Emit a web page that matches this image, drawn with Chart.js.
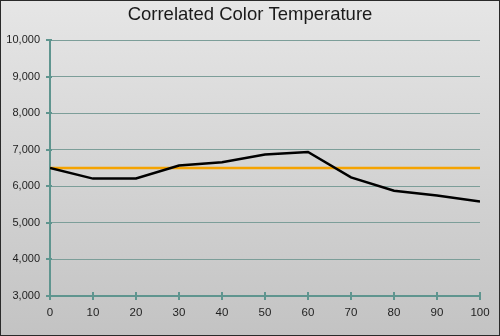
<!DOCTYPE html>
<html>
<head>
<meta charset="utf-8">
<script src="https://cdn.jsdelivr.net/npm/chart.js@4/dist/chart.umd.min.js"></script>
<style>
  html, body { margin: 0; padding: 0; background: #d6d6d6; }
  #wrap { width: 500px; height: 336px; position: relative; }
</style>
</head>
<body>
<div id="wrap"><canvas id="cct" width="500" height="336"></canvas></div>
<script>
// Stimulus level (% grey) and measured correlated colour temperature (K)
const levels = [0, 10, 20, 30, 40, 50, 60, 70, 80, 90, 100];
const measuredCCT = [6500, 6210, 6215, 6570, 6660, 6870, 6940, 6245, 5880, 5745, 5585];
// D65 reference target
const targetCCT = [6500, 6500, 6500, 6500, 6500, 6500, 6500, 6500, 6500, 6500, 6500];
// Axis ranges
const yTicks = [3000, 4000, 5000, 6000, 7000, 8000, 9000, 10000];
const xTicks = [0, 10, 20, 30, 40, 50, 60, 70, 80, 90, 100];

const axisColor = '#5f958f';
const gridColor = '#7c9e99';

const toPoints = (xs, ys) => xs.map((x, i) => ({ x: x, y: ys[i] }));

// Gradient panel with a dark frame behind the chart
const panelBackground = {
  id: 'panelBackground',
  beforeDraw(chart) {
    const { ctx, width, height } = chart;
    ctx.save();
    const g = ctx.createLinearGradient(0, 0, 0, height);
    g.addColorStop(0, '#e6e6e6');
    g.addColorStop(1, '#c3c3c3');
    ctx.fillStyle = g;
    ctx.fillRect(0, 0, width, height);
    ctx.strokeStyle = '#2a2a2a';
    ctx.lineWidth = 1;
    ctx.strokeRect(0.5, 0.5, width - 1, height - 1);
    ctx.restore();
  }
};

// Short tick marks crossing each axis line
const crossTicks = {
  id: 'crossTicks',
  afterDatasetsDraw(chart) {
    const { ctx, scales } = chart;
    const xs = scales.x, ys = scales.y;
    ctx.save();
    ctx.strokeStyle = axisColor;
    ctx.lineWidth = 2;
    ctx.beginPath();
    xs.ticks.forEach((t, i) => {
      const px = Math.round(xs.getPixelForTick(i));
      ctx.moveTo(px, ys.bottom - 4);
      ctx.lineTo(px, ys.bottom + 4);
    });
    ys.ticks.forEach((t, i) => {
      const py = Math.round(ys.getPixelForTick(i));
      ctx.moveTo(xs.left - 4, py);
      ctx.lineTo(xs.left + 2, py);
    });
    ctx.stroke();
    ctx.restore();
  }
};

new Chart(document.getElementById('cct'), {
  type: 'line',
  data: {
    datasets: [
      {
        label: 'Measured',
        data: toPoints(levels, measuredCCT),
        borderColor: '#000000',
        borderWidth: 2.5,
        pointRadius: 0,
        tension: 0,
        order: 1
      },
      {
        label: 'Target',
        data: toPoints(levels, targetCCT),
        borderColor: '#f5a300',
        borderWidth: 2.5,
        pointRadius: 0,
        tension: 0,
        order: 2
      }
    ]
  },
  options: {
    responsive: false,
    animation: false,
    devicePixelRatio: 1,
    layout: { padding: { left: 0, right: 0, top: 0, bottom: 0 } },
    plugins: {
      legend: { display: false },
      tooltip: { enabled: false },
      title: {
        display: true,
        text: 'Correlated Color Temperature',
        color: '#1a1a1a',
        font: { family: '"Liberation Sans", Arial, sans-serif', size: 18.5, weight: 'normal' },
        padding: { top: 4, bottom: 13.8 }
      }
    },
    scales: {
      x: {
        type: 'linear',
        min: 0,
        max: 100,
        afterBuildTicks(scale) { scale.ticks = xTicks.map(v => ({ value: v })); },
        afterFit(scale) { scale.height = 40; },
        ticks: {
          color: '#1e1e1e',
          font: { family: '"Liberation Sans", Arial, sans-serif', size: 11.5 },
          padding: 10,
          maxRotation: 0
        },
        grid: { display: false, drawTicks: false },
        border: { display: true, color: axisColor, width: 2 }
      },
      y: {
        min: 3000,
        max: 10000,
        afterBuildTicks(scale) { scale.ticks = yTicks.map(v => ({ value: v })); },
        afterFit(scale) { scale.width = 50; },
        ticks: {
          color: '#1e1e1e',
          font: { family: '"Liberation Sans", Arial, sans-serif', size: 11 },
          padding: 10,
          callback: v => v.toLocaleString('en-US')
        },
        grid: { color: gridColor, lineWidth: 1, drawTicks: false },
        border: { display: true, color: axisColor, width: 2 }
      },
      // Blank right-hand margin so the title stays centred on the panel
      yRight: {
        position: 'right',
        min: 3000,
        max: 10000,
        afterFit(scale) { scale.width = 20; },
        ticks: { display: false },
        grid: { display: false, drawTicks: false },
        border: { display: false }
      }
    }
  },
  plugins: [panelBackground, crossTicks]
});
</script>
</body>
</html>
